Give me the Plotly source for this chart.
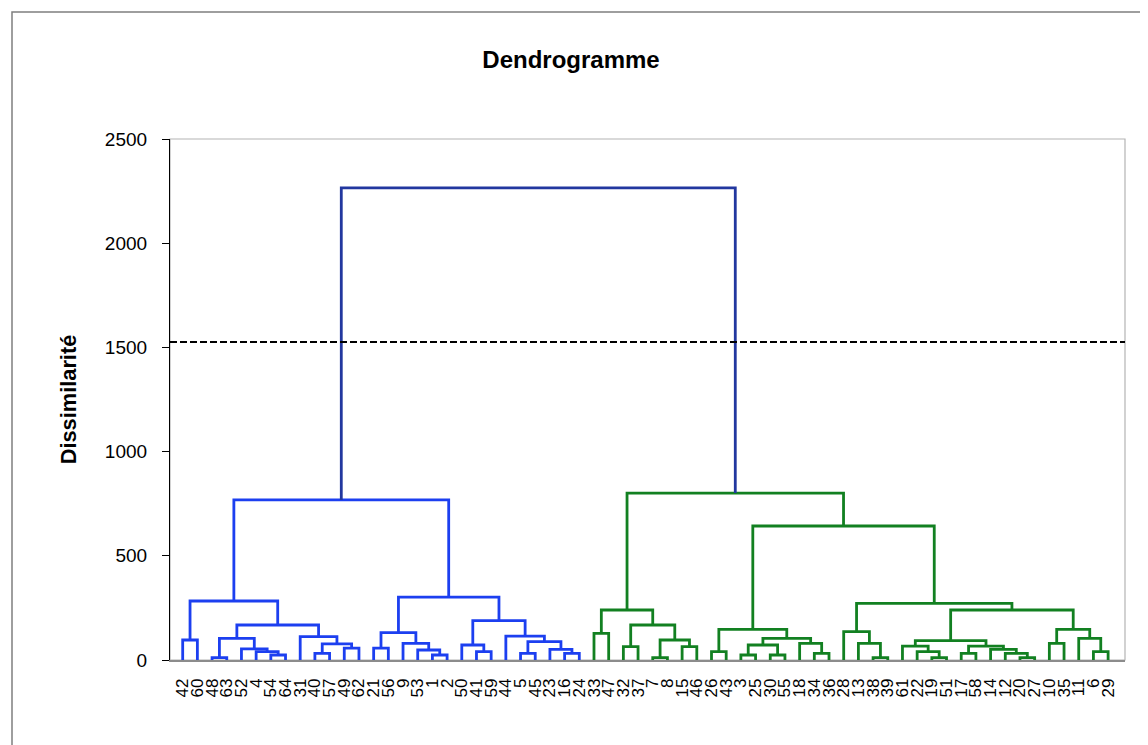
import plotly.graph_objects as go

# ---- data ----------------------------------------------------------------
leaf_order = [42, 60, 48, 63, 52, 4, 54, 64, 31, 40, 57, 49, 62, 21, 56, 9, 53, 1, 2, 50,
              41, 59, 44, 5, 45, 23, 16, 24, 33, 47, 32, 37, 7, 8, 15, 46, 26, 43, 3, 25,
              30, 55, 18, 34, 36, 28, 13, 38, 39, 61, 22, 19, 51, 17, 58, 14, 12, 20, 27, 10,
              35, 11, 6, 29]

# (name, left child, right child, dissimilarity); ints are leaves, strings earlier merges
blue_links = [
    ("b1", 48, 63, 11), ("b2", 54, 64, 24), ("b3", 4, "b2", 40), ("b4", 52, "b3", 53),
    ("b5", "b1", "b4", 104), ("b6", 40, 57, 32), ("b7", 49, 62, 57), ("b8", "b6", "b7", 77),
    ("b9", 31, "b8", 112), ("b10", "b5", "b9", 168), ("b11", 42, 60, 96),
    ("b12", "b11", "b10", 283), ("b13", 21, 56, 57), ("b14", 1, 2, 24), ("b15", 53, "b14", 48),
    ("b16", 9, "b15", 80), ("b17", "b13", "b16", 131), ("b18", 41, 59, 40),
    ("b19", 50, "b18", 72), ("b20", 5, 45, 32), ("b21", 16, 24, 32), ("b22", 23, "b21", 51),
    ("b23", "b20", "b22", 88), ("b24", 44, "b23", 115), ("b25", "b19", "b24", 189),
    ("b26", "b17", "b25", 302), ("b27", "b12", "b26", 768),
]
green_links = [
    ("g1", 33, 47, 128), ("g2", 32, 37, 64), ("g3", 7, 8, 11), ("g4", 15, 46, 64),
    ("g5", "g3", "g4", 96), ("g6", "g2", "g5", 168), ("g7", "g1", "g6", 240),
    ("g8", 26, 43, 40), ("g9", 3, 25, 24), ("g10", 30, 55, 24), ("g11", "g9", "g10", 72),
    ("g12", 34, 36, 32), ("g13", 18, "g12", 80), ("g14", "g11", "g13", 104),
    ("g15", "g8", "g14", 147), ("g16", 38, 39, 11), ("g17", 13, "g16", 80),
    ("g18", 28, "g17", 136), ("g19", 19, 51, 11), ("g20", 22, "g19", 40),
    ("g21", 61, "g20", 67), ("g22", 17, 58, 32), ("g23", 20, 27, 11), ("g24", 12, "g23", 32),
    ("g25", 14, "g24", 51), ("g26", "g22", "g25", 67), ("g27", "g21", "g26", 93),
    ("g28", 10, 35, 80), ("g29", 6, 29, 40), ("g30", 11, "g29", 104),
    ("g31", "g28", "g30", 147), ("g32", "g27", "g31", 240), ("g33", "g18", "g32", 272),
    ("g34", "g15", "g33", 643), ("g35", "g7", "g34", 801),
]
top_links = [("root", "b27", "g35", 2265)]
cut_level = 1526

y_ticks = [0, 500, 1000, 1500, 2000, 2500]

# ---- build the dendrogram -------------------------------------------------
pos = {leaf: i for i, leaf in enumerate(leaf_order)}
hgt = {leaf: 0 for leaf in leaf_order}


def segments(links):
    xs, ys = [], []
    for name, a, b, h in links:
        xa, xb = pos[a], pos[b]
        xs += [xa, xa, xb, xb, None]
        ys += [hgt[a], h, h, hgt[b], None]
        pos[name] = (xa + xb) / 2
        hgt[name] = h
    return xs, ys


fig = go.Figure()
for links, color in [(blue_links, "#1c3ff0"), (green_links, "#128021"), (top_links, "#22379f")]:
    xs, ys = segments(links)
    fig.add_trace(go.Scatter(x=xs, y=ys, mode="lines", line=dict(color=color, width=2.8),
                             hoverinfo="skip", showlegend=False))

W, H = 1140, 737          # page has an 8px body margin
font = "Liberation Sans, Arial, sans-serif"
fig.update_layout(
    width=W, height=H,
    margin=dict(l=162, r=23, t=131, b=85),
    paper_bgcolor="white", plot_bgcolor="white",
    title=dict(text="<b>Dendrogramme</b>", x=563 / W, xref="container", xanchor="center",
               y=1 - 52 / H, yref="container", yanchor="middle",
               font=dict(family=font, size=24, color="black")),
    font=dict(family=font, color="black"),
    xaxis=dict(range=[-0.864, 64.15], tickmode="array", tickvals=list(range(len(leaf_order))),
               ticktext=[str(v) for v in leaf_order], tickangle=-90, ticks="",
               tickfont=dict(size=17, color="black"), showgrid=False, zeroline=False,
               showline=True, linecolor="#8c8c8c", linewidth=1.5, ticklabelstandoff=10),
    yaxis=dict(range=[0, 2500], tickmode="array", tickvals=y_ticks,
               ticks="outside", ticklen=7, tickcolor="black", tickwidth=1.2,
               tickfont=dict(size=19, color="black"), showgrid=False, zeroline=False,
               showline=True, linecolor="black", linewidth=1.2, ticklabelstandoff=11,
               title=dict(text="<b>Dissimilarité</b>", font=dict(size=21.8, color="black"),
                          standoff=22)),
    shapes=[
        dict(type="rect", xref="paper", yref="paper", x0=0, x1=1, y0=0, y1=1,
             line=dict(color="#b4b4b4", width=1.2), layer="below"),
        dict(type="line", xref="paper", yref="y", x0=0, x1=1, y0=cut_level, y1=cut_level,
             line=dict(color="black", width=2, dash="7px,3px")),
        dict(type="rect", xref="paper", yref="paper",
             x0=(12 - 170) / 955, x1=(1170 - 170) / 955,
             y0=(660 - 770) / 521, y1=(660 - 12) / 521,
             line=dict(color="#7f7f7f", width=1.5), layer="below"),
    ],
)

fig.write_html("out.html")
